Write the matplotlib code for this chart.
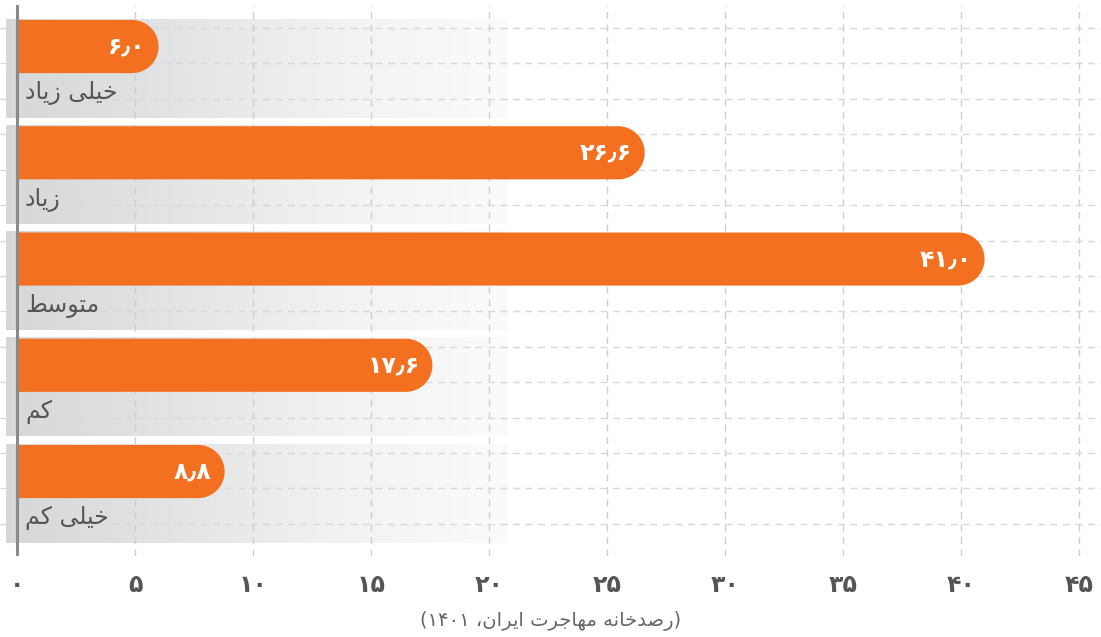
import re
import matplotlib
matplotlib.use("Agg")

import numpy as np
import matplotlib.pyplot as plt
from matplotlib.path import Path
from matplotlib.patches import PathPatch
from matplotlib.colors import LinearSegmentedColormap

labels = ["خیلی زیاد", "زیاد", "متوسط", "کم", "خیلی کم"]
values = [6.0, 26.6, 41.0, 17.6, 8.8]
xticks = [0, 5, 10, 15, 20, 25, 30, 35, 40, 45]
caption = "(رصدخانه مهاجرت ایران، ۱۴۰۱)"

# isolated, final, initial, medial presentation forms
FORMS = {
    "ا": ("\uFE8D", "\uFE8E", None, None),
    "د": ("\uFEA9", "\uFEAA", None, None),
    "ر": ("\uFEAD", "\uFEAE", None, None),
    "ز": ("\uFEAF", "\uFEB0", None, None),
    "و": ("\uFEED", "\uFEEE", None, None),
    "ت": ("\uFE95", "\uFE96", "\uFE97", "\uFE98"),
    "ج": ("\uFE9D", "\uFE9E", "\uFE9F", "\uFEA0"),
    "خ": ("\uFEA5", "\uFEA6", "\uFEA7", "\uFEA8"),
    "س": ("\uFEB1", "\uFEB2", "\uFEB3", "\uFEB4"),
    "ص": ("\uFEB9", "\uFEBA", "\uFEBB", "\uFEBC"),
    "ط": ("\uFEC1", "\uFEC2", "\uFEC3", "\uFEC4"),
    "ل": ("\uFEDD", "\uFEDE", "\uFEDF", "\uFEE0"),
    "م": ("\uFEE1", "\uFEE2", "\uFEE3", "\uFEE4"),
    "ن": ("\uFEE5", "\uFEE6", "\uFEE7", "\uFEE8"),
    "ه": ("\uFEE9", "\uFEEA", "\uFEEB", "\uFEEC"),
    "ی": ("\uFBFC", "\uFBFD", "\uFBFE", "\uFBFF"),
    "ک": ("\uFB8E", "\uFB8F", "\uFB90", "\uFB91"),
}


def shape(s):
    out = []
    for i, ch in enumerate(s):
        if ch not in FORMS:
            out.append(ch)
            continue
        prev = s[i - 1] if i > 0 else ""
        nxt = s[i + 1] if i + 1 < len(s) else ""
        f = FORMS[ch]
        jp = prev in FORMS and FORMS[prev][2] is not None
        jn = f[2] is not None and nxt in FORMS
        if jp and jn:
            out.append(f[3])
        elif jp:
            out.append(f[1])
        elif jn:
            out.append(f[2])
        else:
            out.append(f[0])
    return "".join(out)


def rtl(s):
    tokens = re.findall(r"[۰-۹٫]+|.", shape(s))[::-1]
    mirror = {"(": ")", ")": "("}
    return "".join(mirror.get(t, t) for t in tokens)


def fa_num(v, fmt="{:.1f}"):
    return fmt.format(v).translate(str.maketrans("0123456789.", "۰۱۲۳۴۵۶۷۸۹٫"))


plt.rcParams["font.family"] = ["DejaVu Sans"]

fig = plt.figure(figsize=(11.01, 6.37), dpi=100)
ax = fig.add_axes([0, 81 / 637, 1, 551 / 637])

px = 23.6  # pixels per x unit
x_left = -17 / px
x_right = (1101 - 17) / px
y_bottom = 551 / 106.25

bar_h = 0.5
band_h = 0.93
cmap = LinearSegmentedColormap.from_list(
    "band", ["#d6d7d9", "#e3e4e5", "#f2f2f2", "#fbfbfb"])
grad = np.linspace(0, 1, 256).reshape(1, -1)

rx = 26.5 / px
for i, (lab, v) in enumerate(zip(labels, values)):
    top = 0.141 + i
    ax.imshow(grad, cmap=cmap, aspect="auto", zorder=0,
              extent=(-11 / px, 20.8, top - 0.01 + band_h, top - 0.01))
    # bar with rounded right end
    t = np.linspace(np.pi / 2, -np.pi / 2, 40)
    cx = v - rx
    cy = top + bar_h / 2
    arc = np.column_stack([cx + rx * np.cos(t), cy - (bar_h / 2) * np.sin(t)])
    verts = np.vstack([[0, top], [cx, top], arc, [cx, top + bar_h], [0, top + bar_h], [0, top]])
    ax.add_patch(PathPatch(Path(verts), facecolor="#f37021", edgecolor="none", zorder=3))
    ax.text(v - 0.55, cy, fa_num(v), ha="right", va="center", color="white",
            fontsize=17, fontweight="bold", zorder=4)
    ax.text(0.34, top + 0.69, rtl(lab), ha="left", va="center", color="#555555",
            fontsize=17, zorder=4)

for x in xticks:
    ax.axvline(x, color="#cfcfcf", lw=1, ls=(0, (5, 4)), zorder=1)
for y in np.arange(0.2165, y_bottom, 1 / 3):
    ax.axhline(y, color="#d9d9d9", lw=1, ls=(0, (5, 4)), zorder=1)
ax.axvline(0, color="#8a8a8a", lw=2.2, zorder=5)

ax.set_xlim(x_left, x_right)
ax.set_ylim(y_bottom, 0)
ax.set_xticks(xticks)
ax.set_xticklabels([fa_num(x, "{:d}") for x in xticks], fontsize=17,
                   fontweight="bold", color="#555555")
ax.tick_params(axis="x", length=0, pad=12)
ax.set_yticks([])
for s in ax.spines.values():
    s.set_visible(False)

fig.text(0.5, 1 - 621 / 637, rtl(caption), ha="center", va="center",
         fontsize=14, color="#666666")

fig.savefig("out.png", dpi=100)
